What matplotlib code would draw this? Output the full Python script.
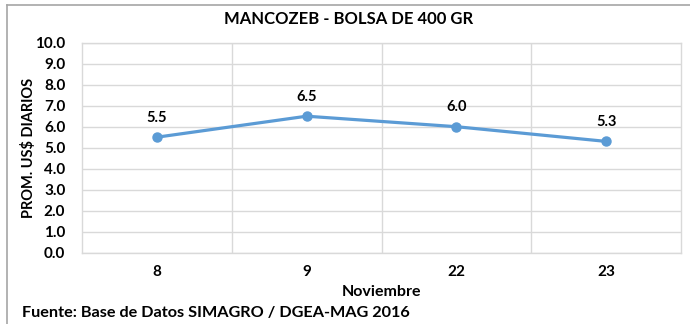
import matplotlib.pyplot as plt
from matplotlib.lines import Line2D

# Precio promedio diario, noviembre
dias = ["8", "9", "22", "23"]
precios = [5.5, 6.5, 6.0, 5.3]
yticks = [0, 1, 2, 3, 4, 5, 6, 7, 8, 9, 10]

titulo = "MANCOZEB - BOLSA DE 400 GR"
fuente = "Fuente: Base de Datos SIMAGRO / DGEA-MAG 2016"

plt.rcParams['font.family'] = ['Lato', 'DejaVu Sans']
plt.rcParams['font.weight'] = 'bold'

fig = plt.figure(figsize=(6.9, 3.24), dpi=100)
ax = fig.add_axes([82 / 690, 1 - 252.7 / 324, (681 - 82) / 690, (252.7 - 42.7) / 324])

grid_color = "#d9d9d9"
x = range(len(dias))
ax.plot(x, precios, color="#5b9bd5", lw=2.3, marker="o", ms=6.5, zorder=3)
for xi, v in zip(x, precios):
    ax.annotate(f"{v:.1f}", (xi, v), xytext=(0, 9), textcoords="offset points",
                ha="center", va="bottom", fontsize=10.5, fontweight="bold")

ax.set_xlim(-0.5, len(dias) - 0.5)
ax.set_ylim(0, 10)
ax.set_yticks(yticks)
ax.set_yticklabels([f"{t:.1f}" for t in yticks])
ax.set_xticks(list(x))
ax.set_xticklabels(dias)
ax.set_xticks([i + 0.5 for i in range(len(dias) - 1)], minor=True)
ax.tick_params(axis="both", length=0, labelsize=11)
ax.tick_params(axis="y", pad=12)
ax.tick_params(axis="x", pad=9)
ax.tick_params(which="minor", length=0)
ax.grid(axis="y", color=grid_color, lw=1)
ax.grid(axis="x", which="minor", color=grid_color, lw=1)
for s in ax.spines.values():
    s.set_color(grid_color)
    s.set_linewidth(1)

ax.set_xlabel("Noviembre", fontsize=11.5, fontweight="bold", labelpad=4)
ax.set_ylabel("PROM. US$ DIARIOS", fontsize=10.5, fontweight="bold")
ax.yaxis.set_label_coords(-0.077, 0.5)
fig.text(349 / 690, 1 - 19 / 324, titulo, ha="center", va="center",
         fontsize=12, fontweight="bold")
fig.text(22 / 690, 1 - 313 / 324, fuente, ha="left", va="center",
         fontsize=11.7, fontweight="bold")

# marco del grafico
fig.add_artist(Line2D([7 / 690, 7 / 690], [0, 1 - 5 / 324], color="#a6a6a6", lw=1.2))
fig.add_artist(Line2D([7 / 690, 1], [1 - 5 / 324, 1 - 5 / 324], color="#a6a6a6", lw=1.2))

fig.savefig("out.png", dpi=100)
